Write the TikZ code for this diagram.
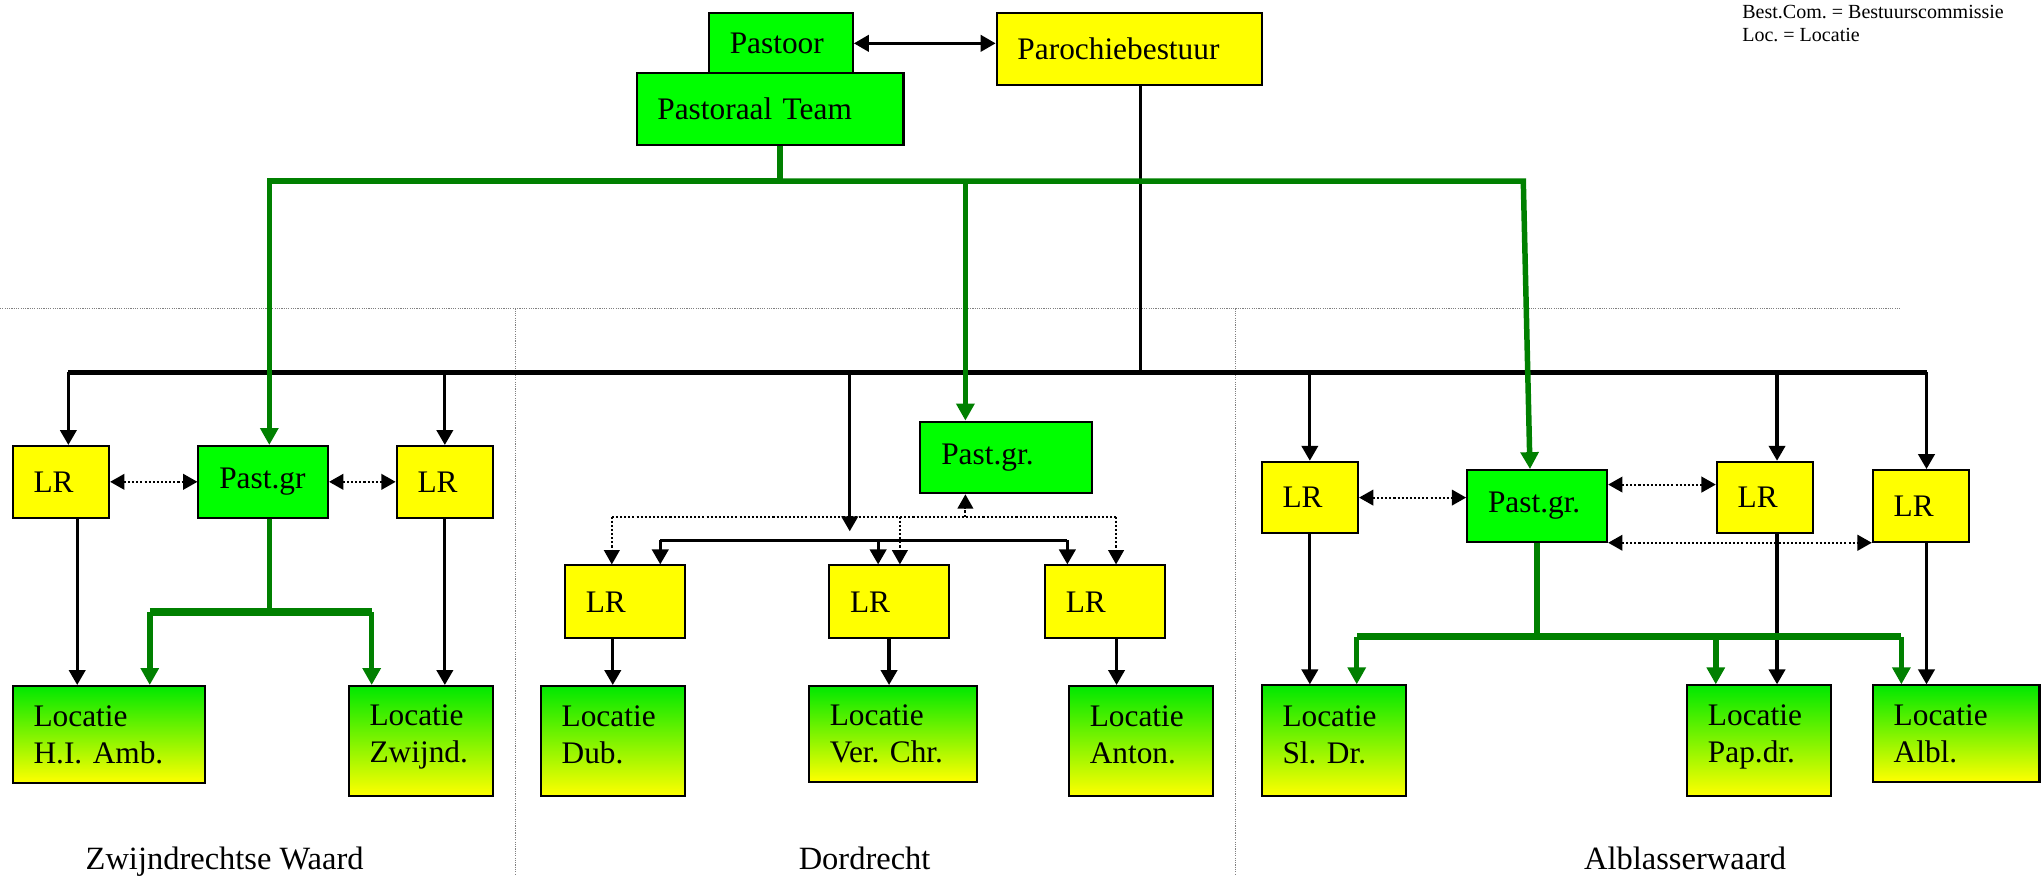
\documentclass[tikz,border=0pt]{standalone}
\usepackage{fontspec}
\setmainfont{Liberation Serif}
\frenchspacing
\usetikzlibrary{arrows.meta}
\definecolor{boxgreen}{RGB}{0,255,0}
\definecolor{boxyellow}{RGB}{255,255,0}
\definecolor{locgreen}{RGB}{0,232,0}
\definecolor{linegreen}{RGB}{0,128,0}
\tikzstyle{box} = [draw, line width=0.9pt, anchor=north west, inner xsep=0.32cm, inner ysep=0pt, align=left, font=\fontsize{13.7}{16.3}\selectfont]
\tikzstyle{gbox} = [box, fill=boxgreen]
\tikzstyle{ybox} = [box, fill=boxyellow]
\tikzstyle{lbox} = [box, top color=locgreen, bottom color=boxyellow]
\tikzstyle{arrow} = [line width=1.4pt, -{Triangle[length=0.23cm,width=0.25cm]}]
\tikzstyle{dblarrow} = [line width=1.4pt, {Triangle[length=0.23cm,width=0.25cm]}-{Triangle[length=0.23cm,width=0.25cm]}]
\tikzstyle{busline} = [line width=1.8pt]
\tikzstyle{gline} = [draw=linegreen, line width=2.4pt]
\tikzstyle{garrow} = [gline, -{Triangle[length=0.26cm,width=0.27cm]}]
\tikzstyle{dotline} = [line width=0.9pt, dash pattern=on 0.9pt off 0.9pt]
\tikzstyle{dotarrow} = [dotline, -{Triangle[length=0.22cm,width=0.24cm]}]
\tikzstyle{dotdbl} = [dotline, {Triangle[length=0.22cm,width=0.24cm]}-{Triangle[length=0.22cm,width=0.24cm]}]
\tikzstyle{divider} = [gray, line width=0.5pt, dash pattern=on 0.5pt off 0.5pt]
\tikzstyle{region} = [anchor=base, inner sep=0pt, font=\fontsize{14.2}{17}\selectfont]
\tikzstyle{legend} = [anchor=north west, inner sep=0pt, align=left, font=\fontsize{8.75}{10.2}\selectfont]

\begin{document}
\begin{tikzpicture}[x=0.02cm, y=-0.02cm]
        \useasboundingbox (0,0) rectangle (1568,672);
        % regions
        \draw [divider] (0,236.8) -- (1460,236.8);
        \draw [divider] (396,236.8) -- (396,672);
        \draw [divider] (949,236.8) -- (949,672);

        % top
        \node [gbox, text width=1.57cm, minimum height=0.92cm] at (543.6,9.5) (pastoor) {Pastoor};
        \node [gbox, text width=3.46cm, minimum height=1.11cm] at (488,55) (team) {Pastoraal Team};
        \node [ybox, text width=3.43cm, minimum height=1.1cm] at (764.5,9.5) (bestuur) {Parochiebestuur};
        \draw [dblarrow] (pastoor.east) -- (pastoor.east -| bestuur.west);

        % Zwijndrechtse Waard
        \node [ybox, text width=0.84cm, minimum height=1.1cm] at (9,341.7) (lrA) {LR};
        \node [gbox, text width=1.35cm, minimum height=1.1cm] at (151.6,341.7) (pastA) {Past.gr};
        \node [ybox, text width=0.84cm, minimum height=1.1cm] at (303.8,341.7) (lrB) {LR};
        \node [lbox, text width=2.31cm, minimum height=1.49cm] at (9,526) (locA) {Locatie\\H.I. Amb.};
        \node [lbox, text width=1.58cm, minimum height=1.69cm, text depth=0.8cm] at (267,526) (locB) {Locatie\\Zwijnd.};

        % Dordrecht
        \node [gbox, text width=2.0cm, minimum height=1.1cm] at (706,323) (pastB) {Past.gr.};
        \node [ybox, text width=1.2cm, minimum height=1.12cm] at (433,433.4) (lrC) {LR};
        \node [ybox, text width=1.2cm, minimum height=1.12cm] at (635.9,433.4) (lrD) {LR};
        \node [ybox, text width=1.2cm, minimum height=1.12cm] at (801.6,433.4) (lrE) {LR};
        \node [lbox, text width=1.57cm, minimum height=1.69cm, text depth=0.77cm] at (414.5,526) (locC) {Locatie\\Dub.};
        \node [lbox, text width=1.94cm, minimum height=1.47cm] at (620.4,526) (locD) {Locatie\\Ver. Chr.};
        \node [lbox, text width=1.57cm, minimum height=1.69cm, text depth=0.77cm] at (820,526) (locE) {Locatie\\Anton.};

        % Alblasserwaard
        \node [ybox, text width=0.84cm, minimum height=1.1cm] at (968,353.8) (lrF) {LR};
        \node [gbox, text width=1.51cm, minimum height=1.1cm] at (1125.8,360.2) (pastC) {Past.gr.};
        \node [ybox, text width=0.83cm, minimum height=1.1cm] at (1317.5,353.8) (lrG) {LR};
        \node [ybox, text width=0.83cm, minimum height=1.1cm] at (1437.3,360.2) (lrH) {LR};
        \node [lbox, text width=1.57cm, minimum height=1.7cm, text depth=0.77cm] at (968,525.5) (locF) {Locatie\\Sl. Dr.};
        \node [lbox, text width=1.57cm, minimum height=1.7cm, text depth=0.8cm] at (1294.7,525.5) (locG) {Locatie\\Pap.dr.};
        \node [lbox, text width=1.92cm, minimum height=1.48cm] at (1437.3,525.5) (locH) {Locatie\\Albl.};

        % black lines from the bestuur
        \coordinate (bus) at (875.7,286);
        \coordinate (busL) at (52.5,286);
        \coordinate (busR) at (1479.3,286);
        \coordinate (drop) at (652.5,408);
        \draw [line width=1.4pt] (bestuur.south -| bus) -- (bus);
        \draw [busline] (busL) -- (busR);
        \draw [arrow] (busL) -- (busL |- lrA.north);
        \draw [arrow] (lrB.north |- bus) -- (lrB.north);
        \draw [arrow] (drop |- bus) -- (drop);
        \draw [arrow] (lrF.north |- bus) -- (lrF.north);
        \draw [arrow] ([xshift=0.19cm]lrG.north |- bus) -- ([xshift=0.19cm]lrG.north);
        \draw [arrow] (busR) -- (busR |- lrH.north);

        \coordinate (barL) at (507,415);
        \coordinate (barM) at (674.3,415);
        \coordinate (barR) at (819.6,415);
        \draw [line width=1.4pt] (barL) -- (barR);
        \draw [arrow] (barL) -- (barL |- lrC.north);
        \draw [arrow] (barM) -- (barM |- lrD.north);
        \draw [arrow] (barR) -- (barR |- lrE.north);

        \draw [arrow] ([xshift=0.25cm]lrA.south) -- ([xshift=0.25cm]lrA.south |- locA.north);
        \draw [arrow] (lrB) -- (lrB |- locB.north);
        \draw [arrow] (lrC.south -| locC.north) -- (locC.north);
        \draw [arrow] (lrD) -- (lrD |- locD.north);
        \draw [arrow] ([xshift=0.18cm]lrE.south) -- ([xshift=0.18cm]lrE.south |- locE.north);
        \draw [arrow] (lrF) -- (lrF |- locF.north);
        \draw [arrow] ([xshift=0.19cm]lrG.south) -- ([xshift=0.19cm]lrG.south |- locG.north);
        \draw [arrow] (busR |- lrH.south) -- (busR |- locH.north);

        % dotted links
        \draw [dotdbl] (lrA) -- (pastA);
        \draw [dotdbl] (pastA) -- (lrB);
        \draw [dotdbl] (lrF.east) -- (lrF.east -| pastC.west);
        \draw [dotdbl] ([yshift=0.2cm]pastC.east |- lrG.west) -- ([yshift=0.2cm]lrG.west);
        \draw [dotdbl] (pastC.south east) -- (lrH.south west);

        \coordinate (dotL) at (469.8,396.7);
        \coordinate (dotM) at (691,396.7);
        \coordinate (dotR) at (857,396.7);
        \coordinate (gM) at (741.3,139);
        \draw [dotline] (dotL) -- (dotR);
        \draw [dotarrow] (gM |- dotL) -- (gM |- pastB.south);
        \draw [dotarrow] (dotL) -- (dotL |- lrC.north);
        \draw [dotarrow] (dotM) -- (dotM |- lrD.north);
        \draw [dotarrow] (dotR) -- (dotR |- lrE.north);

        % green lines from the team
        \coordinate (green) at (599,139);
        \coordinate (gL) at (206.8,139);
        \coordinate (gR) at (1169.7,139);
        \draw [garrow] (team.south -| green) |- (gL) -- (gL |- pastA.north);
        \draw [garrow] (green) -- (gR) -- ([xshift=-0.11cm]pastC.north);
        \draw [garrow] (gM) -- (gM |- pastB.north);

        \coordinate (forkA) at (206.8,470);
        \coordinate (forkA1) at (115,470);
        \coordinate (forkA2) at (285.4,470);
        \draw [gline] (forkA |- pastA.south) -- (forkA);
        \draw [gline, line width=3.2pt] (forkA1) -- (forkA2);
        \draw [garrow] (forkA1) -- (forkA1 |- locA.north);
        \draw [garrow] (forkA2) -- (forkA2 |- locB.north);

        \coordinate (forkC) at (1180,489);
        \coordinate (forkC1) at (1041.8,489);
        \coordinate (forkC2) at (1317.5,489);
        \coordinate (forkC3) at (1460,489);
        \draw [gline] (pastC.south) -- (pastC.south |- forkC);
        \draw [gline, line width=3.2pt] (forkC1) -- (forkC3);
        \draw [garrow] (forkC1) -- (forkC1 |- locF.north);
        \draw [garrow] (forkC2) -- (forkC2 |- locG.north);
        \draw [garrow] (forkC3) -- (forkC3 |- locH.north);

        % labels
        \node [region] at (172.5,667.4) (zwaard) {Zwijndrechtse Waard};
        \node [region] at (663.9,667.4) (dordrecht) {Dordrecht};
        \node [region] at (1294,667.4) (awaard) {Alblasserwaard};
        \node [legend] at (1337.5,3.5) (key) {Best.Com. = Bestuurscommissie\\Loc. = Locatie};
\end{tikzpicture}
\end{document}
